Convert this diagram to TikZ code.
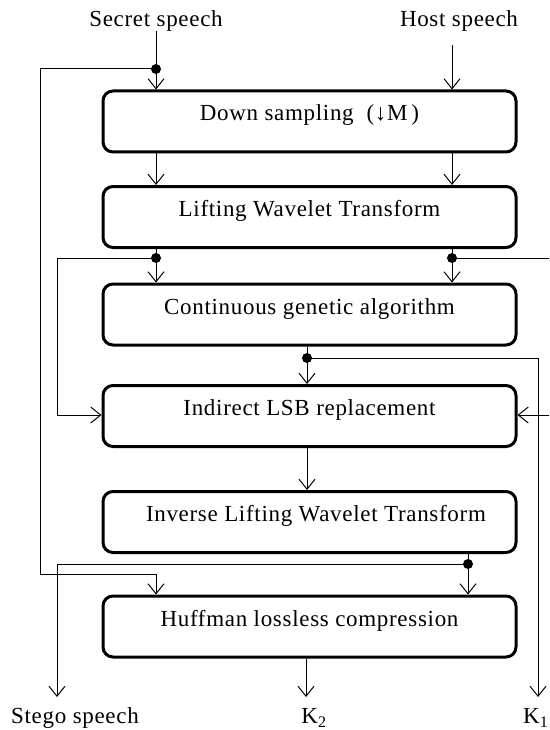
\documentclass[tikz,border=0pt]{standalone}
\usepackage{fontspec}
\setmainfont[LetterSpace=3]{Liberation Serif}
\usetikzlibrary{arrows.meta}
\begin{document}
\begin{tikzpicture}[x=1pt,y=-1pt,every node/.style={font=\fontsize{23}{27}\selectfont},
  box/.style={draw,line width=3pt,rounded corners=10pt,minimum width=413pt,minimum height=61pt,text height=15pt,text depth=16pt},
  link/.style={line width=1pt},
  arr/.style={link,-{Straight Barb[length=10pt,width=16pt,line width=1pt]}},
  dot/.style={circle,fill,inner sep=0pt,minimum size=10pt}]
  \useasboundingbox (0,0) rectangle (549,730);
  \clip (0,0) rectangle (549,730);
  \pgfmathsetmacro\cx{309.5}
  % processing boxes:
  \node[box] (ds) at (\cx,121.5) {Down sampling\ \ (↓M\,)};
  \node[box] (lwt) at (\cx,217) {Lifting Wavelet Transform};
  \node[box] (cga) at (\cx,314.5) {Continuous genetic algorithm};
  \node[box] (il) at (\cx,416) {Indirect LSB replacement};
  \node[box] (ilwt) at (\cx,522) {\ \ Inverse Lifting Wavelet Transform};
  \node[box] (hc) at (\cx,626.5) {Huffman lossless compression};
  % inputs and outputs:
  \node (secret) at (156,21) {Secret speech};
  \node (host) at (459,21) {Host speech};
  \node (stego) at (75,718) {Stego speech};
  \node (k2) at (314,718) {K\textsubscript{2}};
  \node[anchor=east,inner sep=0.5pt] (k1) at (549,718) {K\textsubscript{1}};
  % branch points:
  \node[dot] (d0) at (156,69) {};
  \node[dot] (d1) at (156,258) {};
  \node[dot] (d2) at (452,258) {};
  \node[dot] (d3) at (307,358) {};
  \node[dot] (d4) at (468,564) {};
  \coordinate (hin) at (452,45);
  \coordinate (sout) at (57,697);
  \coordinate (kout) at (538,697);
  \coordinate (k2out) at (306,697);
  \coordinate (rin) at (549,415);
  % top inputs:
  \draw[link] ([yshift=4pt]secret.south) -- (d0.center);
  \draw[arr] (d0.center) -- (d0 |- ds.north);
  \draw[arr] (hin) -- (hin |- ds.north);
  \draw[arr] (d0.center) -- (40,69) -- (40,574) -- (156,574) -- (156,574 |- hc.north);
  % down sampling to lifting:
  \draw[arr] (d1 |- ds.south) -- (d1 |- lwt.north);
  \draw[arr] (d2 |- ds.south) -- (d2 |- lwt.north);
  % lifting outputs:
  \draw[link] (d1 |- lwt.south) -- (d1.center);
  \draw[link] (d2 |- lwt.south) -- (d2.center);
  \draw[arr] (d1.center) -- (d1 |- cga.north);
  \draw[arr] (d2.center) -- (d2 |- cga.north);
  \draw[arr] (d1.center) -- (57,258) -- (57,415) -- (il.west |- 0,415);
  \draw[link] (d2.center) -- (549,258);
  \draw[arr] (rin) -- (rin -| il.east);
  % genetic algorithm output:
  \draw[link] (d3 |- cga.south) -- (d3.center);
  \draw[arr] (d3.center) -- (d3 |- il.north);
  \draw[arr] (d3.center) -- (kout |- d3) -- (kout);
  % replacement to inverse:
  \draw[arr] (d3 |- il.south) -- (d3 |- ilwt.north);
  % inverse output:
  \draw[link] (d4 |- ilwt.south) -- (d4.center);
  \draw[arr] (d4.center) -- (d4 |- hc.north);
  \draw[arr] (d4.center) -- (sout |- d4) -- (sout);
  % compression output:
  \draw[arr] (k2out |- hc.south) -- (k2out);
\end{tikzpicture}
\end{document}
